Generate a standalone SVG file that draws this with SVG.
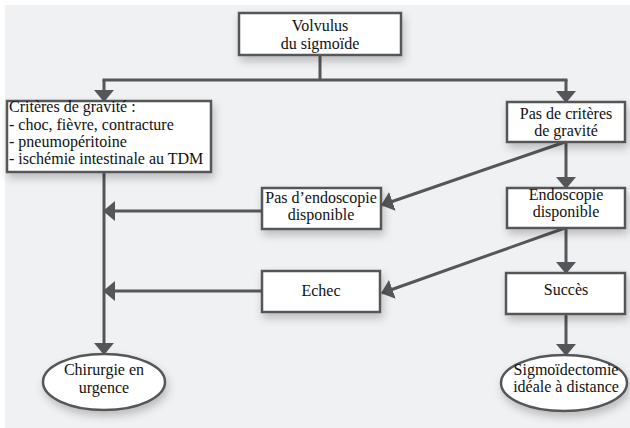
<svg xmlns="http://www.w3.org/2000/svg" width="630" height="428" viewBox="0 0 630 428">
<defs>
<filter id="sh" x="-20%" y="-20%" width="140%" height="160%">
<feDropShadow dx="2" dy="5" stdDeviation="4" flood-color="#000" flood-opacity="0.22"/>
</filter>
<marker id="ah" markerUnits="userSpaceOnUse" viewBox="0 0 12 20" refX="11" refY="10" markerWidth="12" markerHeight="20" orient="auto">
<path d="M0,0 L12,10 L0,20 z" fill="#555659"/>
</marker>
</defs>
<style>
.box{fill:#fff;stroke:#555659;stroke-width:2.5;filter:url(#sh)}
text{font-family:'Liberation Serif',Tinos,'Times New Roman','Nimbus Roman','DejaVu Serif',serif;font-size:16px;fill:#111}
.c{text-anchor:middle}
.ln{stroke:#555659;stroke-width:3;fill:none}
.ar{marker-end:url(#ah)}
</style>
<rect x="5" y="5" width="625" height="423" fill="#f0f1f3"/>
<g id="connectors">
<line class="ln" x1="320" y1="55" x2="320" y2="80"/>
<line class="ln" x1="102.5" y1="80" x2="567.5" y2="80"/>
<line class="ln ar" x1="104" y1="80" x2="104" y2="101"/>
<line class="ln ar" x1="566" y1="80" x2="566" y2="102"/>
<line class="ln ar" x1="104" y1="172" x2="104" y2="354"/>
<line class="ln ar" x1="566" y1="142" x2="566" y2="188"/>
<line class="ln ar" x1="565" y1="142" x2="382" y2="205"/>
<line class="ln ar" x1="262" y1="211" x2="104" y2="211"/>
<line class="ln ar" x1="566" y1="228" x2="566" y2="273"/>
<line class="ln ar" x1="565" y1="228" x2="382" y2="293"/>
<line class="ln ar" x1="262" y1="291" x2="104" y2="291"/>
<line class="ln ar" x1="566" y1="314" x2="566" y2="355"/>
</g>
<g id="volvulus">
<rect class="box" x="239" y="13" width="162" height="42"/>
<text class="c" x="320" y="31">Volvulus</text>
<text class="c" x="320" y="49">du sigmoïde</text>
</g>
<g id="criteres">
<rect class="box" x="7" y="101" width="204" height="71"/>
<text x="9" y="112">Critères de gravité :</text>
<text x="9" y="129.5">- choc, fièvre, contracture</text>
<text x="9" y="147">- pneumopéritoine</text>
<text x="9" y="164">- ischémie intestinale au TDM</text>
</g>
<g id="pas-criteres">
<rect class="box" x="507" y="102" width="118" height="40"/>
<text class="c" x="566" y="119">Pas de critères</text>
<text class="c" x="566" y="136">de gravité</text>
</g>
<g id="endoscopie">
<rect class="box" x="507" y="188" width="118" height="40"/>
<text class="c" x="566" y="200">Endoscopie</text>
<text class="c" x="566" y="217">disponible</text>
</g>
<g id="pas-endoscopie">
<rect class="box" x="262" y="188" width="119" height="41"/>
<text class="c" x="321" y="203">Pas d’endoscopie</text>
<text class="c" x="321" y="220">disponible</text>
</g>
<g id="echec">
<rect class="box" x="262" y="271" width="118" height="41"/>
<text class="c" x="321" y="296">Echec</text>
</g>
<g id="succes">
<rect class="box" x="506" y="273" width="119" height="41"/>
<text class="c" x="566" y="295">Succès</text>
</g>
<g id="chirurgie">
<ellipse class="box" cx="104" cy="382" rx="61" ry="28"/>
<text class="c" x="104" y="375">Chirurgie en</text>
<text class="c" x="104" y="393">urgence</text>
</g>
<g id="sigmoidectomie">
<ellipse class="box" cx="564" cy="383" rx="63" ry="28"/>
<text class="c" x="566" y="375">Sigmoïdectomie</text>
<text class="c" x="566" y="392">idéale à distance</text>
</g>
</svg>
